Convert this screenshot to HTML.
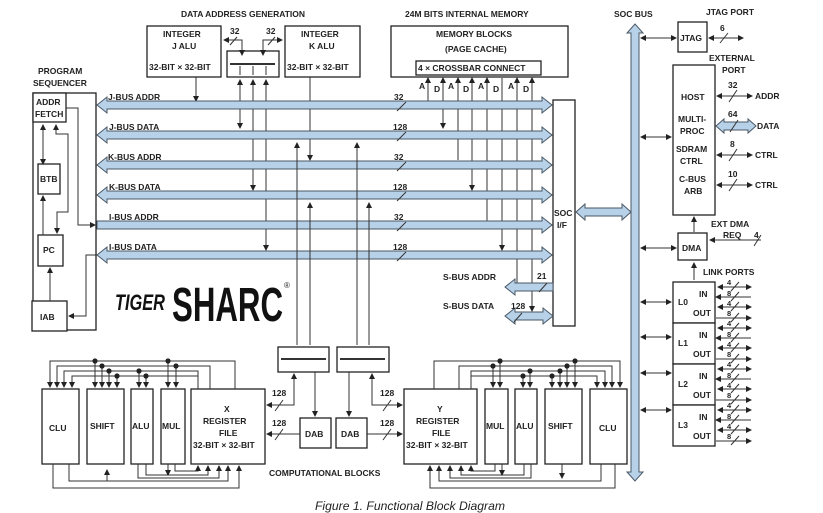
<!DOCTYPE html>
<html><head><meta charset="utf-8"><style>
html,body{margin:0;padding:0;background:#fff}
svg{display:block}
text{font-family:"Liberation Sans",Arial,sans-serif;font-size:8.5px;font-weight:bold;fill:#222}
.b{fill:#fff;stroke:#222;stroke-width:1.3}
.l{stroke:#333;stroke-width:1;fill:none}
.bus{fill:#b7d1e8;stroke:#4a5866;stroke-width:1}
</style></head><body>
<svg width="823" height="513" viewBox="0 0 823 513" xmlns="http://www.w3.org/2000/svg">
<defs>
<marker id="a" markerWidth="6" markerHeight="6" refX="5" refY="3" orient="auto" markerUnits="userSpaceOnUse"><path d="M0,0L6,3L0,6z" fill="#222"/></marker>
<marker id="s" markerWidth="6" markerHeight="6" refX="1" refY="3" orient="auto" markerUnits="userSpaceOnUse"><path d="M6,0L0,3L6,6z" fill="#222"/></marker>
<marker id="d" markerWidth="6" markerHeight="6" refX="3" refY="3" markerUnits="userSpaceOnUse"><circle cx="3" cy="3" r="2.6" fill="#222"/></marker>
</defs>

<text x="181" y="17">DATA ADDRESS GENERATION</text>
<text x="405" y="17">24M BITS INTERNAL MEMORY</text>
<text x="614" y="17">SOC BUS</text>
<text x="706" y="15">JTAG PORT</text>
<text x="709" y="61">EXTERNAL</text>
<text x="722" y="73">PORT</text>
<text x="38" y="74">PROGRAM</text>
<text x="33" y="86">SEQUENCER</text>

<rect class="b" x="147" y="26" width="74" height="51"/>
<text x="163" y="37">INTEGER</text><text x="172" y="49">J ALU</text><text x="149" y="70">32-BIT × 32-BIT</text>
<rect class="b" x="227" y="51" width="52" height="26"/>
<line class="l" x1="230" y1="64" x2="275" y2="64" style="stroke-width:2"/>
<rect class="b" x="285" y="26" width="75" height="51"/>
<text x="301" y="37">INTEGER</text><text x="309" y="49">K ALU</text><text x="287" y="70">32-BIT × 32-BIT</text>
<text x="230" y="34">32</text><text x="266" y="34">32</text>
<path class="l" d="M224,40H242V55" marker-start="url(#s)" marker-end="url(#a)"/>
<path class="l" d="M282,40H263V55" marker-start="url(#s)" marker-end="url(#a)"/>
<line class="l" x1="230" y1="45" x2="237" y2="37"/><line class="l" x1="268" y1="45" x2="275" y2="37"/>
<line class="l" x1="240" y1="66" x2="240" y2="75"/><line class="l" x1="253" y1="66" x2="253" y2="75"/><line class="l" x1="266" y1="66" x2="266" y2="75"/>
<path class="l" d="M196,77V101" marker-end="url(#a)"/>
<path class="l" d="M310,77V160" marker-end="url(#a)"/>
<path class="l" d="M240,80V128" marker-start="url(#s)" marker-end="url(#a)"/>
<path class="l" d="M253,80V190" marker-start="url(#s)" marker-end="url(#a)"/>
<path class="l" d="M266,80V250" marker-start="url(#s)" marker-end="url(#a)"/>

<rect class="b" x="391" y="26" width="177" height="51"/>
<text x="436" y="37">MEMORY BLOCKS</text><text x="445" y="52">(PAGE CACHE)</text>
<rect class="b" x="416" y="61" width="125" height="14"/>
<text x="418" y="71">4 × CROSSBAR CONNECT</text>
<text x="419" y="89">A</text><text x="434" y="92">D</text><text x="448" y="89">A</text><text x="463" y="92">D</text><text x="478" y="89">A</text><text x="493" y="92">D</text><text x="508" y="89">A</text><text x="523" y="92">D</text>
<path class="l" d="M428,101V78" marker-end="url(#a)"/>
<path class="l" d="M443,78V128" marker-start="url(#s)" marker-end="url(#a)"/>
<path class="l" d="M458,160V78" marker-end="url(#a)"/>
<path class="l" d="M472,78V190" marker-start="url(#s)" marker-end="url(#a)"/>
<path class="l" d="M487,221V78" marker-end="url(#a)"/>
<path class="l" d="M502,78V250" marker-end="url(#a)"/>
<path class="l" d="M517,283V78" marker-end="url(#a)"/>
<path class="l" d="M532,78V311" marker-start="url(#s)" marker-end="url(#a)"/>

<g>
<polygon class="bus" points="97,105 107,97 107,101 542,101 542,97 552,105 542,113 542,109 107,109 107,113"/>
<polygon class="bus" points="97,135 107,127 107,131 542,131 542,127 552,135 542,143 542,139 107,139 107,143"/>
<polygon class="bus" points="97,165 107,157 107,161 542,161 542,157 552,165 542,173 542,169 107,169 107,173"/>
<polygon class="bus" points="97,195 107,187 107,191 542,191 542,187 552,195 542,203 542,199 107,199 107,203"/>
<polygon class="bus" points="97,221 542,221 542,217 552,225 542,233 542,229 97,229"/>
<polygon class="bus" points="97,255 107,247 107,251 542,251 542,247 552,255 542,263 542,259 107,259 107,263"/>
</g>
<text x="108" y="100">J-BUS ADDR</text><text x="109" y="130">J-BUS DATA</text>
<text x="108" y="160">K-BUS ADDR</text><text x="109" y="190">K-BUS DATA</text>
<text x="109" y="220">I-BUS ADDR</text><text x="109" y="250">I-BUS DATA</text>
<g>
<text x="394" y="100">32</text><text x="393" y="130">128</text><text x="394" y="160">32</text><text x="393" y="190">128</text><text x="394" y="220">32</text><text x="393" y="250">128</text>
<line class="l" x1="397" y1="111" x2="406" y2="102"/><line class="l" x1="397" y1="141" x2="406" y2="132"/><line class="l" x1="397" y1="171" x2="406" y2="162"/><line class="l" x1="397" y1="201" x2="406" y2="192"/><line class="l" x1="397" y1="231" x2="406" y2="222"/><line class="l" x1="397" y1="261" x2="406" y2="252"/>
</g>

<path class="l" d="M297,345V143" marker-end="url(#a)"/>
<path class="l" d="M357,345V143" marker-end="url(#a)"/>
<path class="l" d="M310,345V203" marker-end="url(#a)"/>
<path class="l" d="M369,345V203" marker-end="url(#a)"/>

<rect class="b" x="33" y="93" width="63" height="237"/>
<rect class="b" x="33" y="93" width="33" height="29"/>
<text x="36" y="105">ADDR</text><text x="35" y="117">FETCH</text>
<rect class="b" x="38" y="164" width="22" height="30"/><text x="40" y="182">BTB</text>
<rect class="b" x="38" y="235" width="25" height="31"/><text x="43" y="253">PC</text>
<rect class="b" x="32" y="301" width="35" height="30"/><text x="40" y="320">IAB</text>
<path class="l" d="M43,164V125" marker-start="url(#s)" marker-end="url(#a)"/>
<path class="l" d="M43,235V196" marker-end="url(#a)"/>
<path class="l" d="M56,125V134H68V212H57V233" marker-start="url(#s)" marker-end="url(#a)"/>
<path class="l" d="M50,301V268" marker-end="url(#a)"/>
<path class="l" d="M66,108H78V225H95" marker-end="url(#a)"/>
<path class="l" d="M97,255H86V316H69" marker-end="url(#a)"/>

<text x="115" y="310" textLength="50" lengthAdjust="spacingAndGlyphs" style="font-size:22px;font-style:italic;font-weight:900;fill:#111">TIGER</text>
<text x="172" y="321" textLength="111" lengthAdjust="spacingAndGlyphs" style="font-size:48px;font-weight:900;fill:#111">SHARC</text>
<text x="284" y="288" style="font-size:8px;font-weight:normal">®</text>

<rect class="b" x="553" y="100" width="22" height="226"/>
<text x="554" y="216">SOC</text><text x="557" y="228">I/F</text>
<polygon class="bus" points="505,287 515,279 515,283 553,283 553,291 515,291 515,295"/>
<polygon class="bus" points="505,316 515,308 515,312 543,312 543,308 553,316 543,324 543,320 515,320 515,324"/>
<text x="443" y="280">S-BUS ADDR</text><text x="443" y="309">S-BUS DATA</text>
<text x="537" y="279">21</text><text x="511" y="309">128</text>
<line class="l" x1="539" y1="292" x2="547" y2="283"/><line class="l" x1="514" y1="322" x2="522" y2="313"/>
<polygon class="bus" points="576,212 585,204 585,208 622,208 622,204 631,212 622,220 622,216 585,216 585,220"/>

<polygon class="bus" points="635,24 643,33 639,33 639,472 643,472 635,481 627,472 631,472 631,33 627,33"/>

<rect class="b" x="678" y="22" width="29" height="30"/><text x="680" y="41">JTAG</text>
<path class="l" d="M641,38H676" marker-start="url(#s)" marker-end="url(#a)"/>
<path class="l" d="M709,38H743" marker-start="url(#s)" marker-end="url(#a)"/>
<text x="720" y="31">6</text><line class="l" x1="720" y1="43" x2="728" y2="33"/>
<rect class="b" x="673" y="65" width="42" height="150"/>
<text x="681" y="100">HOST</text><text x="678" y="122">MULTI-</text><text x="680" y="134">PROC</text>
<text x="676" y="152">SDRAM</text><text x="680" y="164">CTRL</text><text x="679" y="182">C-BUS</text><text x="684" y="194">ARB</text>
<path class="l" d="M641,137H671" marker-start="url(#s)" marker-end="url(#a)"/>
<path class="l" d="M717,96H752" marker-start="url(#s)" marker-end="url(#a)"/><text x="755" y="99">ADDR</text>
<text x="728" y="88">32</text><line class="l" x1="729" y1="102" x2="737" y2="90"/>
<polygon class="bus" points="716,126 724,119 724,122 748,122 748,119 756,126 748,133 748,130 724,130 724,133"/>
<text x="757" y="129">DATA</text><text x="728" y="117">64</text><line class="l" x1="730" y1="132" x2="738" y2="120"/>
<path class="l" d="M717,155H752" marker-start="url(#s)" marker-end="url(#a)"/><text x="755" y="158">CTRL</text>
<text x="730" y="147">8</text><line class="l" x1="729" y1="161" x2="737" y2="149"/>
<path class="l" d="M717,185H752" marker-start="url(#s)" marker-end="url(#a)"/><text x="755" y="188">CTRL</text>
<text x="728" y="177">10</text><line class="l" x1="729" y1="191" x2="737" y2="179"/>
<rect class="b" x="678" y="233" width="29" height="27"/><text x="682" y="251">DMA</text>
<path class="l" d="M641,248H676" marker-start="url(#s)" marker-end="url(#a)"/>
<path class="l" d="M694,232V217" marker-end="url(#a)"/>
<text x="711" y="227">EXT DMA</text><text x="723" y="238">REQ</text><text x="754" y="238">4</text>
<path class="l" d="M761,240H710" marker-end="url(#a)"/><line class="l" x1="754" y1="246" x2="761" y2="235"/>
<path class="l" d="M694,280V263" marker-end="url(#a)"/>
<text x="703" y="275">LINK PORTS</text>

<g>
<rect class="b" x="673" y="282" width="42" height="41"/><rect class="b" x="673" y="323" width="42" height="41"/><rect class="b" x="673" y="364" width="42" height="41"/><rect class="b" x="673" y="405" width="42" height="41"/>
<text x="678" y="305">L0</text><text x="699" y="297">IN</text><text x="693" y="316">OUT</text>
<text x="678" y="346">L1</text><text x="699" y="338">IN</text><text x="693" y="357">OUT</text>
<text x="678" y="387">L2</text><text x="699" y="379">IN</text><text x="693" y="398">OUT</text>
<text x="678" y="428">L3</text><text x="699" y="420">IN</text><text x="693" y="439">OUT</text>
<path class="l" d="M641,302H671" marker-start="url(#s)" marker-end="url(#a)"/>
<path class="l" d="M641,337H671" marker-start="url(#s)" marker-end="url(#a)"/>
<path class="l" d="M641,373H671" marker-start="url(#s)" marker-end="url(#a)"/>
<path class="l" d="M641,410H671" marker-start="url(#s)" marker-end="url(#a)"/>
</g>
<g id="lp">
<path class="l" d="M718,287H751" marker-start="url(#s)" marker-end="url(#a)"/>
<line class="l" x1="716" y1="297" x2="751" y2="297" marker-start="url(#s)"/>
<path class="l" d="M718,307H751" marker-start="url(#s)" marker-end="url(#a)"/>
<path class="l" d="M716,318H751" marker-end="url(#a)"/>
<text x="727" y="285" style="font-size:7.5px">4</text><text x="727" y="296" style="font-size:7.5px">8</text><text x="727" y="306" style="font-size:7.5px">4</text><text x="727" y="316" style="font-size:7.5px">8</text>
<line class="l" x1="731" y1="291" x2="739" y2="282"/><line class="l" x1="731" y1="301" x2="739" y2="292"/><line class="l" x1="731" y1="311" x2="739" y2="302"/><line class="l" x1="731" y1="322" x2="739" y2="313"/>
</g>
<use href="#lp" y="41"/><use href="#lp" y="82"/><use href="#lp" y="123"/>

<rect class="b" x="278" y="347" width="51" height="25"/><line class="l" x1="281" y1="359" x2="326" y2="359" style="stroke-width:2"/>
<rect class="b" x="337" y="347" width="52" height="25"/><line class="l" x1="340" y1="359" x2="385" y2="359" style="stroke-width:2"/>
<rect class="b" x="300" y="418" width="31" height="30"/><text x="305" y="437">DAB</text>
<rect class="b" x="336" y="418" width="31" height="30"/><text x="341" y="437">DAB</text>
<path class="l" d="M315,372V416" marker-end="url(#a)"/>
<path class="l" d="M349,372V416" marker-end="url(#a)"/>
<path class="l" d="M294,374V405H267" marker-start="url(#s)" marker-end="url(#a)"/>
<path class="l" d="M300,434H267" marker-end="url(#a)"/>
<path class="l" d="M372,374V405H402" marker-start="url(#s)" marker-end="url(#a)"/>
<path class="l" d="M367,434H402" marker-end="url(#a)"/>
<text x="272" y="396">128</text><text x="272" y="426">128</text><text x="380" y="396">128</text><text x="380" y="426">128</text>
<line class="l" x1="275" y1="411" x2="283" y2="400"/><line class="l" x1="275" y1="440" x2="283" y2="429"/><line class="l" x1="383" y1="411" x2="391" y2="400"/><line class="l" x1="383" y1="440" x2="391" y2="429"/>
<text x="269" y="476">COMPUTATIONAL BLOCKS</text>

<rect class="b" x="42" y="389" width="37" height="75"/><text x="49" y="431">CLU</text>
<rect class="b" x="87" y="389" width="37" height="75"/><text x="90" y="429">SHIFT</text>
<rect class="b" x="131" y="389" width="22" height="75"/><text x="132" y="429">ALU</text>
<rect class="b" x="161" y="389" width="24" height="75"/><text x="162" y="429">MUL</text>
<rect class="b" x="191" y="389" width="74" height="75"/>
<text x="224" y="412">X</text><text x="203" y="424">REGISTER</text><text x="219" y="436">FILE</text><text x="193" y="448">32-BIT × 32-BIT</text>
<path class="l" d="M235,389V361H50V387" marker-end="url(#a)"/>
<path class="l" d="M210,389V366H57V387" marker-end="url(#a)"/>
<path class="l" d="M198,389V371H64V387" marker-end="url(#a)"/>
<path class="l" d="M198,389V376H72V387" marker-end="url(#a)"/>
<path class="l" d="M95,361V387" marker-start="url(#d)" marker-end="url(#a)"/>
<path class="l" d="M102,366V387" marker-start="url(#d)" marker-end="url(#a)"/>
<path class="l" d="M109,371V387" marker-start="url(#d)" marker-end="url(#a)"/>
<path class="l" d="M117,376V387" marker-start="url(#d)" marker-end="url(#a)"/>
<path class="l" d="M139,371V387" marker-start="url(#d)" marker-end="url(#a)"/>
<path class="l" d="M146,376V387" marker-start="url(#d)" marker-end="url(#a)"/>
<path class="l" d="M168,361V387" marker-start="url(#d)" marker-end="url(#a)"/>
<path class="l" d="M176,366V387" marker-start="url(#d)" marker-end="url(#a)"/>
<path class="l" d="M53,464V488H239V466" marker-end="url(#a)"/>
<path class="l" d="M69,464V481H228V466" marker-end="url(#a)"/>
<path class="l" d="M107,481V470" marker-end="url(#a)"/>
<path class="l" d="M138,464V478H219V466" marker-end="url(#a)"/>
<path class="l" d="M146,464V475H208V466" marker-end="url(#a)"/>
<path class="l" d="M168,464V475" marker-end="url(#a)"/>
<path class="l" d="M175,464V471H198V466" marker-end="url(#a)"/>

<rect class="b" x="404" y="389" width="73" height="75"/>
<text x="437" y="412">Y</text><text x="416" y="424">REGISTER</text><text x="432" y="436">FILE</text><text x="406" y="448">32-BIT × 32-BIT</text>
<rect class="b" x="485" y="389" width="23" height="75"/><text x="486" y="429">MUL</text>
<rect class="b" x="515" y="389" width="22" height="75"/><text x="516" y="429">ALU</text>
<rect class="b" x="545" y="389" width="37" height="75"/><text x="548" y="429">SHIFT</text>
<rect class="b" x="590" y="389" width="37" height="75"/><text x="599" y="431">CLU</text>
<path class="l" d="M434,389V361H620V387" marker-end="url(#a)"/>
<path class="l" d="M459,389V366H612V387" marker-end="url(#a)"/>
<path class="l" d="M471,389V371H605V387" marker-end="url(#a)"/>
<path class="l" d="M471,389V376H597V387" marker-end="url(#a)"/>
<path class="l" d="M500,361V387" marker-start="url(#d)" marker-end="url(#a)"/>
<path class="l" d="M493,366V387" marker-start="url(#d)" marker-end="url(#a)"/>
<path class="l" d="M530,371V387" marker-start="url(#d)" marker-end="url(#a)"/>
<path class="l" d="M523,376V387" marker-start="url(#d)" marker-end="url(#a)"/>
<path class="l" d="M575,361V387" marker-start="url(#d)" marker-end="url(#a)"/>
<path class="l" d="M567,366V387" marker-start="url(#d)" marker-end="url(#a)"/>
<path class="l" d="M560,371V387" marker-start="url(#d)" marker-end="url(#a)"/>
<path class="l" d="M552,376V387" marker-start="url(#d)" marker-end="url(#a)"/>
<path class="l" d="M615,464V488H430V466" marker-end="url(#a)"/>
<path class="l" d="M601,464V481H439V466" marker-end="url(#a)"/>
<path class="l" d="M562,464V478" marker-end="url(#a)"/>
<path class="l" d="M531,464V478H450V466" marker-end="url(#a)"/>
<path class="l" d="M524,464V475H461V466" marker-end="url(#a)"/>
<path class="l" d="M502,464V475" marker-end="url(#a)"/>
<path class="l" d="M495,464V471H471V466" marker-end="url(#a)"/>

<text x="315" y="510" textLength="190" lengthAdjust="spacingAndGlyphs" style="font-weight:normal;font-style:italic;font-size:12px">Figure 1.  Functional Block Diagram</text>
</svg>
</body></html>
